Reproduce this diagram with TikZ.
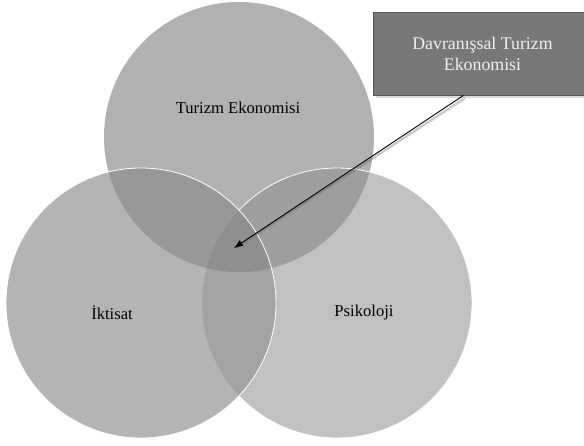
\documentclass[tikz,border=0pt]{standalone}
\usepackage{fontspec}
\setmainfont{Liberation Serif}
\usetikzlibrary{arrows.meta}
\definecolor{cTop}{gray}{0.695}
\definecolor{cLeft}{gray}{0.705}
\definecolor{cRight}{gray}{0.755}
\definecolor{cTL}{gray}{0.595}
\definecolor{cTR}{gray}{0.62}
\definecolor{cLR}{gray}{0.64}
\definecolor{cAll}{gray}{0.56}
\definecolor{boxfill}{gray}{0.47}
\definecolor{boxline}{gray}{0.33}
\tikzset{
  label/.style={font=\fontsize{16.6}{19}\selectfont, text=black, inner sep=0pt},
  edge/.style={draw=white, line width=0.8pt},
  callout/.style={draw=boxline, fill=boxfill, line width=0.8pt, minimum width=219pt,
    minimum height=83pt, inner sep=0pt, align=center, text=white!94!black,
    font=\fontsize{17.8}{21}\selectfont},
}
\begin{document}
\begin{tikzpicture}[x=1pt,y=1pt]
\useasboundingbox (0,0) rectangle (584,445);
\begin{scope}
\clip (0,0) rectangle (584,445);
\def\R{135}
\coordinate (T) at (239,308);
\coordinate (L) at (141,142);
\coordinate (P) at (337,142);

% base discs
\fill[cTop] (T) circle (\R);
\fill[cLeft] (L) circle (\R);
\fill[cRight] (P) circle (\R);
% pairwise overlaps
\begin{scope}\clip (T) circle (\R); \fill[cTL] (L) circle (\R); \end{scope}
\begin{scope}\clip (T) circle (\R); \fill[cTR] (P) circle (\R); \end{scope}
\begin{scope}\clip (L) circle (\R); \fill[cLR] (P) circle (\R); \end{scope}
% triple overlap
\begin{scope}\clip (T) circle (\R); \clip (L) circle (\R); \fill[cAll] (P) circle (\R); \end{scope}

% white rims
\begin{scope}[even odd rule]
  \clip (-10,-10) rectangle (600,460) (L) circle (\R);
  \draw[edge] (P) circle (\R);
\end{scope}
\draw[edge] (L) circle (\R);

% labels
\node[label] (te) at (238,337) {Turizm Ekonomisi};
\node[label] (ik) at (112,132) {İktisat};
\node[label] (ps) at (364,132) {Psikoloji};

% callout box (runs past the right edge)
\fill[black, opacity=0.15] (375.5,347) rectangle (594,352);
\node[callout] (dv) at (482.5,391.5) {Davranışsal Turizm\\Ekonomisi};

% arrow into the common region
\coordinate (tip) at (234,197);
\draw[black!60, opacity=0.35, line width=2.5pt, line cap=round]
  ([xshift=-18pt,yshift=-3pt]dv.south) -- ([xshift=3pt,yshift=1pt]tip);
\draw[-{Latex[length=9pt,width=7pt]}, line width=0.9pt, black]
  ([xshift=-19pt]dv.south) -- (tip);
\end{scope}
\end{tikzpicture}
\end{document}
